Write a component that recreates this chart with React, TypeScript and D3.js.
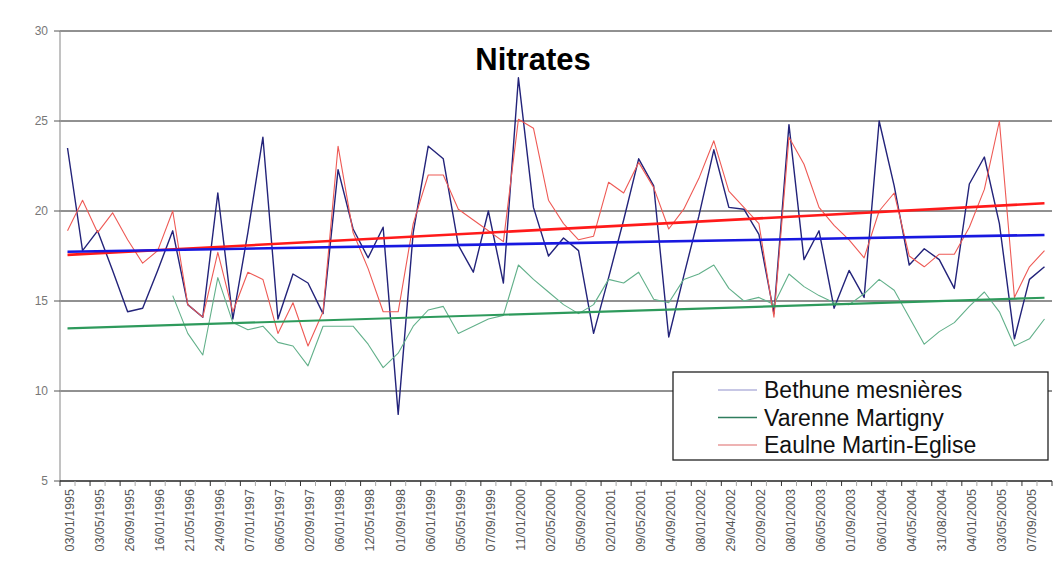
import React from "react";
import * as d3 from "d3";

const dateLabels = [
  "03/01/1995","03/05/1995","26/09/1995","16/01/1996","21/05/1996","24/09/1996",
  "07/01/1997","06/05/1997","02/09/1997","06/01/1998","12/05/1998","01/09/1998",
  "06/01/1999","05/05/1999","07/09/1999","11/01/2000","02/05/2000","05/09/2000",
  "02/01/2001","09/05/2001","04/09/2001","08/01/2002","29/04/2002","02/09/2002",
  "08/01/2003","06/05/2003","01/09/2003","06/01/2004","04/05/2004","31/08/2004",
  "04/01/2005","03/05/2005","07/09/2005",
];

const bethune = [
  23.5, 17.8, 18.9, 16.7, 14.4, 14.6, 16.7, 18.9, 14.8, 14.1,
  21.0, 14.0, 18.8, 24.1, 14.0, 16.5, 16.0, 14.3, 22.3, 19.0,
  17.4, 19.1, 8.7, 18.8, 23.6, 22.9, 18.1, 16.6, 20.0, 16.0,
  27.4, 20.2, 17.5, 18.5, 17.8, 13.2, 16.3, 19.5, 22.9, 21.4,
  13.0, 16.4, 19.7, 23.4, 20.2, 20.1, 18.7, 14.3, 24.8, 17.3,
  18.9, 14.6, 16.7, 15.2, 25.0, 21.4, 17.0, 17.9, 17.3, 15.7,
  21.5, 23.0, 19.3, 12.9, 16.2, 16.9,
];

const varenne: (number | null)[] = [
  null, null, null, null, null, null, null, 15.3, 13.2, 12.0,
  16.3, 13.8, 13.4, 13.6, 12.7, 12.5, 11.4, 13.6, 13.6, 13.6,
  12.6, 11.3, 12.1, 13.6, 14.5, 14.7, 13.2, 13.6, 14.0, 14.2,
  17.0, 16.2, 15.5, 14.8, 14.3, 14.8, 16.2, 16.0, 16.6, 15.1,
  14.9, 16.2, 16.5, 17.0, 15.7, 15.0, 15.2, 14.8, 16.5, 15.8,
  15.3, 14.9, 14.8, 15.4, 16.2, 15.6, 14.1, 12.6, 13.3, 13.8,
  14.7, 15.5, 14.4, 12.5, 12.9, 14.0,
];

const eaulne = [
  18.9, 20.6, 18.8, 19.9, 18.4, 17.1, 17.8, 20.0, 14.8, 14.1,
  17.7, 14.4, 16.6, 16.2, 13.2, 14.9, 12.5, 14.4, 23.6, 18.8,
  16.8, 14.4, 14.4, 19.3, 22.0, 22.0, 20.1, 19.5, 18.9, 18.3,
  25.1, 24.6, 20.6, 19.3, 18.4, 18.6, 21.6, 21.0, 22.7, 21.3,
  19.0, 20.1, 21.8, 23.9, 21.1, 20.2, 19.3, 14.1, 24.1, 22.6,
  20.2, 19.2, 18.4, 17.4, 20.0, 21.0, 17.5, 16.9, 17.6, 17.6,
  19.1, 21.2, 25.0, 15.2, 16.9, 17.8,
];

// trend line end values [first category, last category]
const bethuneTrend = [17.74, 18.67];
const varenneTrend = [13.48, 15.18];
const eaulneTrend = [17.56, 20.43];

const yTicks = [5, 10, 15, 20, 25, 30];
const seriesNames = ["Bethune mesnières", "Varenne Martigny", "Eaulne Martin-Eglise"];

const W = 1054;
const H = 573;
const FONT = "'Liberation Sans', Arial, sans-serif";

export default function App() {
  const n = bethune.length;
  const left = 60;
  const right = 1052;
  const x = d3.scaleBand<number>().domain(d3.range(n)).range([left, right]).padding(0);
  const cx = (i: number) => (x(i) as number) + x.bandwidth() / 2;
  const y = d3.scaleLinear().domain([5, 30]).range([481, 31]);

  const line = d3
    .line<number | null>()
    .defined((d) => d !== null)
    .x((_, i) => cx(i))
    .y((d) => y(d as number));

  const trend = (t: number[]) =>
    d3.line<number>()
      .x((_, i) => (i === 0 ? cx(0) : cx(n - 1)))
      .y((d) => y(d))(t) as string;

  const series = [
    { name: seriesNames[0], data: bethune, color: "#23237a", width: 1.4, legend: "#b4b4dc" },
    { name: seriesNames[1], data: varenne, color: "#62b08a", width: 1.1, legend: "#2f7d5e" },
    { name: seriesNames[2], data: eaulne, color: "#ee5a55", width: 1.1, legend: "#e89a9a" },
  ];

  const legX = 673, legY = 372, legW = 375, legH = 88;

  return (
    <div style={{ position: "absolute", left: 0, top: 0 }}>
      <svg width={W} height={H} style={{ display: "block", background: "#fff" }}>
        <rect x={0} y={0} width={W} height={H} fill="#fff" />
        {/* gridlines */}
        {yTicks.slice(1).map((t) => (
          <line key={"g" + t} x1={left} x2={right} y1={y(t)} y2={y(t)} stroke="#222" strokeWidth={1} />
        ))}
        {/* y axis */}
        <line x1={left} x2={left} y1={y(30)} y2={y(5)} stroke="#999" strokeWidth={1.2} />
        {yTicks.map((t) => (
          <g key={"yt" + t}>
            <line x1={left - 6} x2={left} y1={y(t)} y2={y(t)} stroke="#555" />
            <text x={left - 12} y={y(t)} dy="0.35em" textAnchor="end" fontFamily={FONT} fontSize={12} fill="#777">
              {t}
            </text>
          </g>
        ))}
        {/* x axis */}
        <line x1={left} x2={right} y1={y(5)} y2={y(5)} stroke="#222" strokeWidth={1.3} />
        {d3.range(n + 1).map((i) => {
          const xx = left + i * x.bandwidth();
          return <line key={"xt" + i} x1={xx} x2={xx} y1={y(5)} y2={y(5) + 5} stroke={i % 2 === 0 ? "#333" : "#aaa"} />;
        })}
        {dateLabels.map((lab, k) => {
          const xx = cx(k * 2) + 2;
          return (
            <text
              key={"xl" + k}
              transform={`translate(${xx},${489}) rotate(-90)`}
              textAnchor="end"
              dy="0.35em"
              fontFamily={FONT}
              fontSize={12.5}
              fill="#555"
            >
              {lab}
            </text>
          );
        })}
        {/* series */}
        {series.map((s) => (
          <path key={s.name} d={line(s.data as (number | null)[]) as string} fill="none" stroke={s.color} strokeWidth={s.width} strokeLinejoin="round" />
        ))}
        {/* trend lines */}
        <path d={trend(varenneTrend)} fill="none" stroke="#2e9a5c" strokeWidth={2.2} />
        <path d={trend(eaulneTrend)} fill="none" stroke="#ff1a1a" strokeWidth={2.6} />
        <path d={trend(bethuneTrend)} fill="none" stroke="#1818e0" strokeWidth={2.6} />
        {/* title */}
        <text x={533} y={70} textAnchor="middle" fontFamily={FONT} fontWeight="bold" fontSize={31} fill="#000">
          Nitrates
        </text>
        {/* legend */}
        <rect x={legX} y={legY} width={legW} height={legH} fill="#fff" stroke="#222" strokeWidth={1.3} />
        {series.map((s, i) => {
          const ly = 390 + i * 27.5;
          return (
            <g key={"lg" + i}>
              <line x1={718} x2={757} y1={ly} y2={ly} stroke={s.legend} strokeWidth={1.5} />
              <text x={764} y={ly} dy="0.36em" fontFamily={FONT} fontSize={23} fill="#111">
                {s.name}
              </text>
            </g>
          );
        })}
      </svg>
    </div>
  );
}
